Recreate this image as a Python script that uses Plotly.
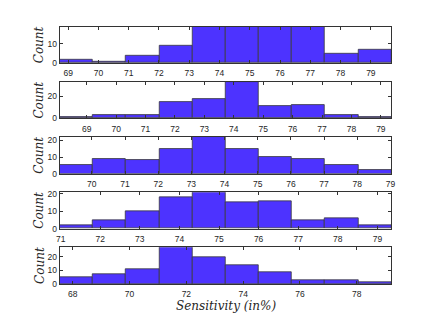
import numpy as np
import plotly.graph_objects as go
from plotly.subplots import make_subplots

# histogram data, one row per panel
counts_1 = [2, 1, 4, 9, 19, 19, 19, 19, 5, 7]
counts_2 = [1, 3, 3, 15, 18, 33, 11, 12, 3, 1]
counts_3 = [5, 9, 8, 15, 22, 15, 10, 9, 5, 2]
counts_4 = [2, 5, 10, 18, 21, 15, 16, 5, 6, 2]
counts_5 = [5, 7, 11, 27, 20, 14, 9, 3, 3, 1]

# first and last bin edge of each panel
edge_lo = [68.72, 68.08, 69.03, 70.975, 67.54]
edge_hi = [79.68, 79.36, 79.03, 79.355, 79.22]

y_max = [18.7, 33, 22, 21, 27.2]
y_step = [10, 20, 10, 10, 10]
x_step = [1, 1, 1, 1, 2]

all_counts = [counts_1, counts_2, counts_3, counts_4, counts_5]

W, H = 436, 328
# panel pixel extents (top, bottom)
rows_px = [(24.3, 61.7), (81.0, 118.3), (137.3, 175.0), (194.0, 231.3), (250.3, 288.0)]
x0_px, x1_px = 56.7, 394.7

fig = make_subplots(rows=5, cols=1)

bar_color = "#4d33ff"
edge_color = "#3a3a3a"
box_color = "#333333"
tick_font = dict(family="Liberation Sans, Arial, sans-serif", size=8.5, color="#262626")
label_font = dict(family="DejaVu Serif, Liberation Serif, serif", size=12, color="#262626")

for i, cnt in enumerate(all_counts):
    edges = np.linspace(edge_lo[i], edge_hi[i], len(cnt) + 1)
    centers = (edges[:-1] + edges[1:]) / 2
    width = edges[1] - edges[0]
    fig.add_trace(go.Bar(
        x=centers, y=cnt, width=width,
        marker=dict(color=bar_color, line=dict(color=edge_color, width=0.8)),
        showlegend=False, hoverinfo="skip",
    ), row=i + 1, col=1)

    top, bot = rows_px[i]
    ax = "" if i == 0 else str(i + 1)
    fig.layout["xaxis" + ax].update(
        domain=[x0_px / W, x1_px / W],
        range=[edge_lo[i], edge_hi[i]],
        dtick=x_step[i], tick0=0,
        ticks="inside", ticklen=3, tickcolor=box_color,
        showline=True, linecolor=box_color, linewidth=1, mirror="ticks",
        showgrid=False, zeroline=False, tickfont=tick_font,
        ticklabelstandoff=2,
    )
    fig.layout["yaxis" + ax].update(
        domain=[1 - bot / H, 1 - top / H],
        range=[0, y_max[i]],
        dtick=y_step[i], tick0=0,
        ticks="inside", ticklen=3, tickcolor=box_color,
        showline=True, linecolor=box_color, linewidth=1, mirror="ticks",
        showgrid=False, zeroline=False, tickfont=tick_font,
    )
    fig.add_annotation(
        text="<i>Count</i>", textangle=-90,
        x=36 / W, y=1 - (top + bot) / 2 / H, xref="paper", yref="paper",
        xanchor="center", yanchor="middle",
        showarrow=False, font=label_font,
    )

fig.add_annotation(
    text="<i>Sensitivity (in%)</i>",
    x=(x0_px + x1_px) / 2 / W, y=1 - 310.5 / H, xref="paper", yref="paper",
    xanchor="center", yanchor="middle",
    showarrow=False, font=label_font,
)

fig.update_layout(
    width=W, height=H,
    margin=dict(l=0, r=0, t=0, b=0),
    paper_bgcolor="white", plot_bgcolor="white",
    bargap=0,
)

# drop the default page margin so the figure sits at the window's corner
fig.write_html("out.html", config={"displayModeBar": False},
               post_script="document.body.style.margin='0';")
